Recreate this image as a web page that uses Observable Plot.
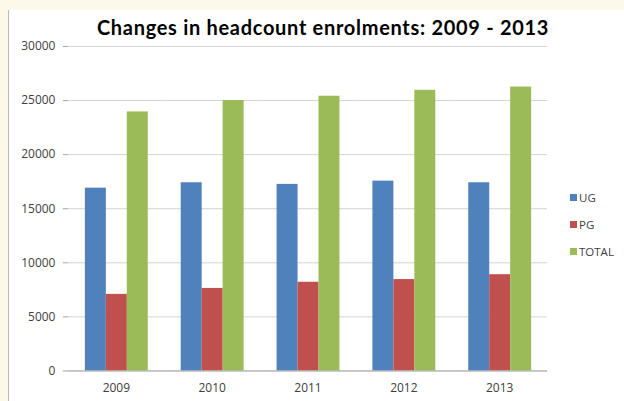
<!DOCTYPE html>
<html>
<head>
<meta charset="utf-8">
<script src="https://cdn.jsdelivr.net/npm/d3@7"></script>
<script src="https://cdn.jsdelivr.net/npm/@observablehq/plot@0.6"></script>
<style>
  html, body { margin: 0; padding: 0; background: #fdf9ea; width: 624px; height: 401px; overflow: hidden; }
  #card { position: absolute; left: 8px; top: 10px; width: 616px; height: 391px; background: #fff; border-left: 1px solid #b8b8b8; box-sizing: border-box; }
  #title { position: absolute; left: 0; top: 5px; width: 624px; margin-left: 2px; text-align: center; font-family: Lato, sans-serif; font-weight: bold; font-size: 20px; letter-spacing: 0.7px; color: #000; white-space: nowrap; }
  #chart { position: absolute; left: 0; top: 28px; }
  #legend { position: absolute; left: 561px; top: 174px; font-family: "Open Sans", sans-serif; font-size: 11.5px; color: #404040; }
  .item { height: 27px; display: flex; align-items: center; }
  .sw { width: 7px; height: 7px; margin-right: 2px; }
</style>
</head>
<body>
<div id="card">
  <div id="title"></div>
  <div id="chart"></div>
  <div id="legend"></div>
</div>
<script>
const titleText = "Changes in headcount enrolments: 2009 - 2013";
const years = ["2009", "2010", "2011", "2012", "2013"];
const series = ["UG", "PG", "TOTAL"];
const colors = ["#4F81BD", "#C0504D", "#9BBB59"];
const ug = [16900, 17400, 17250, 17550, 17400];
const pg = [7080, 7630, 8200, 8450, 8900];
const total = [23950, 25000, 25400, 25950, 26250];
const yTicks = [0, 5000, 10000, 15000, 20000, 25000, 30000];

const valuesBySeries = {UG: ug, PG: pg, TOTAL: total};
const data = [];
years.forEach((yr, i) => {
  series.forEach(s => data.push({year: yr, series: s, value: valuesBySeries[s][i]}));
});

document.getElementById("title").textContent = titleText;

const chart = Plot.plot({
  width: 616,
  height: 363,
  marginLeft: 59,
  marginRight: 77,
  marginTop: 8,
  marginBottom: 30,
  style: {fontFamily: "Open Sans, sans-serif", fontSize: "12px", color: "#404040", background: "transparent"},
  fx: {domain: years, padding: 0, label: null},
  x: {domain: series, paddingInner: 0, paddingOuter: 0.75},
  y: {domain: [0, 30000], label: null},
  color: {domain: series, range: colors},
  marks: [
    Plot.gridY(yTicks, {stroke: "#d4d4d4", strokeOpacity: 1}),
    Plot.barY(data, {fx: "year", x: "series", y: "value", fill: "series"}),
    Plot.ruleY([0], {stroke: "#a6a6a6"}),
    Plot.axisY(yTicks, {tickSize: 5, tickPadding: 8, stroke: "#a6a6a6", fill: "#404040", tickFormat: d => String(d), label: null, line: true}),
    Plot.axisX({ticks: [], label: null}),
    Plot.axisFx({anchor: "bottom", tickSize: 0, tickPadding: 13, label: null, fill: "#404040"})
  ]
});
document.getElementById("chart").appendChild(chart);

const legend = document.getElementById("legend");
series.forEach((s, i) => {
  const row = document.createElement("div");
  row.className = "item";
  const sw = document.createElement("span");
  sw.className = "sw";
  sw.style.background = colors[i];
  const t = document.createElement("span");
  t.textContent = s;
  row.appendChild(sw); row.appendChild(t);
  legend.appendChild(row);
});
</script>
</body>
</html>
